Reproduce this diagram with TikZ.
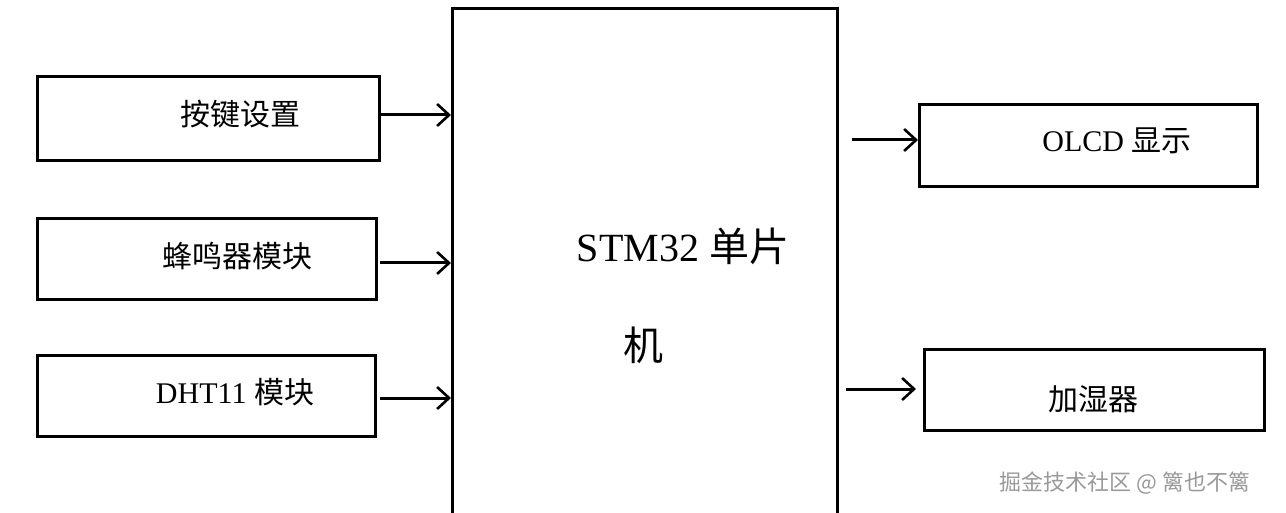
\documentclass[tikz,border=0pt]{standalone}
\usepackage{fontspec}
\setmainfont{Liberation Serif}
\newfontfamily\cjk{Noto Sans CJK SC}
\usetikzlibrary{arrows.meta}
\begin{document}
\begin{tikzpicture}[x=1pt,y=-1pt,
  box/.style={draw,line width=3pt,inner sep=0pt,anchor=north west},
  lbl/.style={font=\fontsize{30}{33}\selectfont},
  arr/.style={line width=3pt,-{Straight Barb[length=12pt,width=22pt,line width=2.6pt]}}]
\useasboundingbox (0,0) rectangle (1286,513);
\node[box,minimum width=342pt,minimum height=84pt] (k) at (36,75) {};
\node[lbl] (kt) at (240,114) {\cjk 按键设置};
\node[box,minimum width=339pt,minimum height=81pt] (f) at (36,217) {};
\node[lbl] (ft) at (237,256) {\cjk 蜂鸣器模块};
\node[box,minimum width=338pt,minimum height=81pt] (d) at (36,354) {};
\node[lbl] (dt) at (235,392) {DHT11 {\cjk 模块}};
\node[box,minimum width=385pt,minimum height=530pt] (s) at (451,7) {};
\node[font=\fontsize{40}{44}\selectfont] (st1) at (683,246) {STM32 {\cjk 单片}};
\node[font=\fontsize{40}{44}\selectfont] (st2) at (643,345) {\cjk 机};
\node[box,minimum width=338pt,minimum height=82pt] (o) at (918,103) {};
\node[lbl] (ot) at (1117,141) {OLCD {\cjk 显示}};
\node[box,minimum width=340pt,minimum height=81pt] (h) at (923,348) {};
\node[lbl] (ht) at (1093,399) {\cjk 加湿器};
\coordinate (k1) at (381,115); \coordinate (f1) at (380,263); \coordinate (d1) at (380,398);
\coordinate (o1) at (852,140); \coordinate (h1) at (846,389);
\draw[arr] (k1) -- (k1 -| s.west);
\draw[arr] (f1) -- (f1 -| s.west);
\draw[arr] (d1) -- (d1 -| s.west);
\draw[arr] (o1) -- (o1 -| o.west);
\draw[arr] (h1) -- (916,389);
\node[text=gray!80] (wm) at (1125,483) {\fontsize{22}{25}\selectfont\cjk 掘金技术社区 @ 篱也不篱};
\end{tikzpicture}
\end{document}
